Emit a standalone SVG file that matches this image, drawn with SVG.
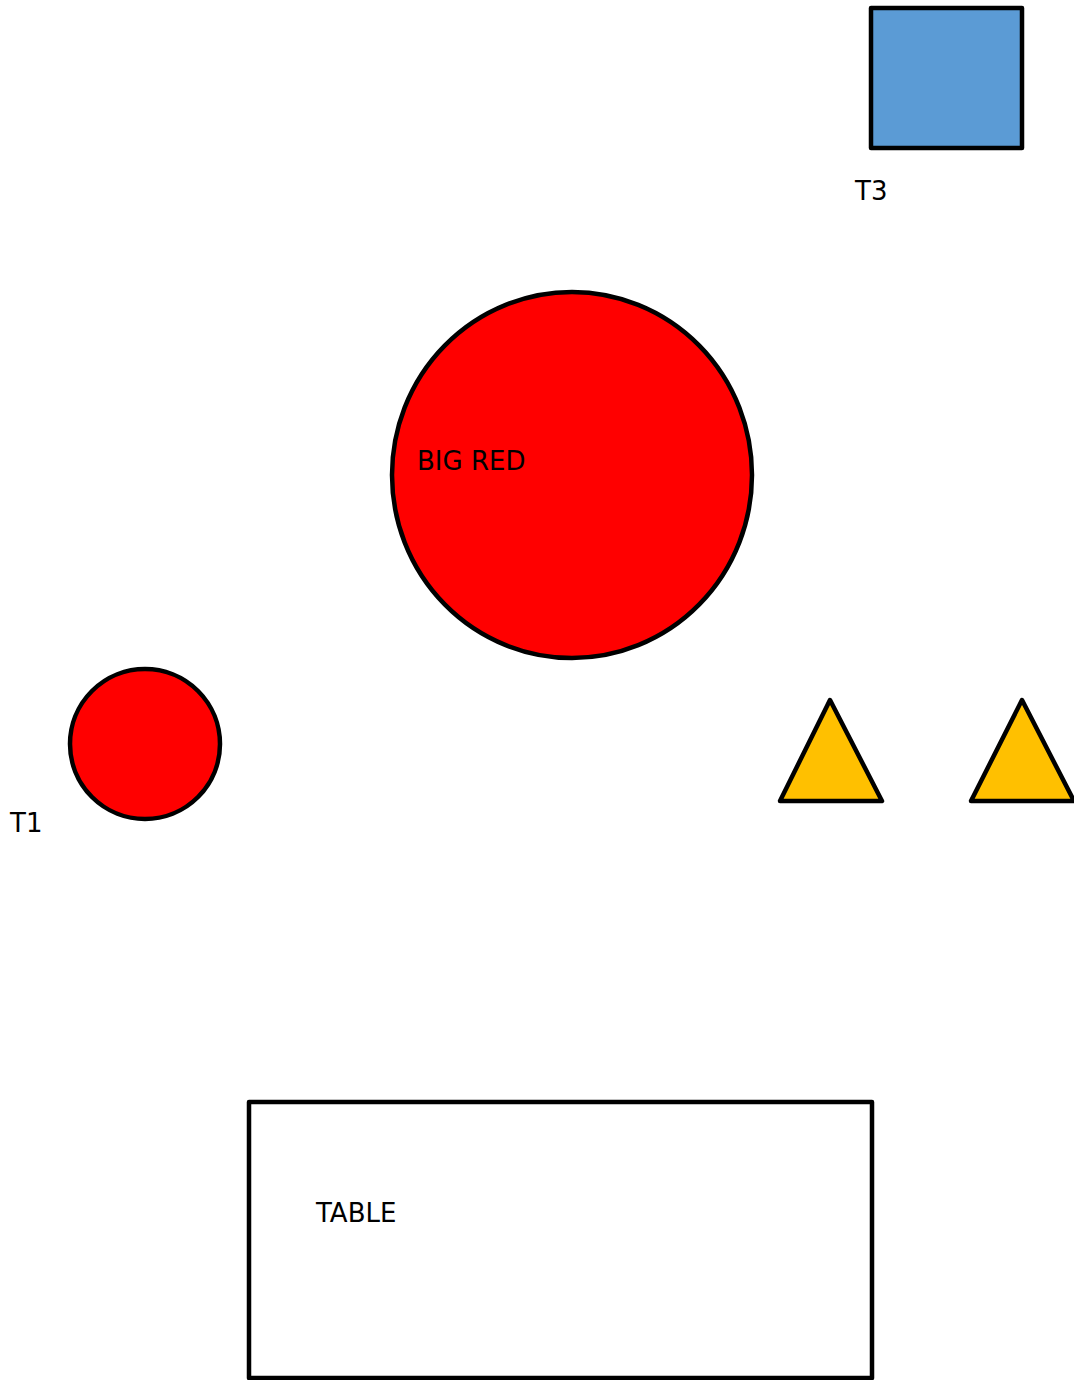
<svg xmlns="http://www.w3.org/2000/svg" width="1074" height="1380" viewBox="0 0 1074 1380">
<style>
.lbl{font-family:"DejaVu Sans",sans-serif;font-size:26px;fill:#000}
.shp{stroke:#000;stroke-width:4.5;stroke-linejoin:round}
</style>
<rect width="1074" height="1380" fill="#fff"/>
<g id="connectors"></g>
<g id="t3">
<rect class="shp" x="871" y="8" width="151" height="140" fill="#5B9BD5" stroke-width="5.5"/>
<text class="lbl" x="855" y="200">T3</text>
</g>
<g id="bigred">
<ellipse class="shp" cx="572" cy="475" rx="180" ry="183" fill="#FF0000"/>
<text class="lbl" x="417" y="470">BIG RED</text>
</g>
<g id="t1">
<circle class="shp" cx="145" cy="744" r="75" fill="#FF0000"/>
<text class="lbl" x="10" y="832">T1</text>
</g>
<g id="tri1">
<polygon class="shp" points="780,801 830,700 882,801" fill="#FFC000"/>
</g>
<g id="tri2">
<polygon class="shp" points="971,801 1022,700 1074,801" fill="#FFC000"/>
</g>
<g id="table">
<rect class="shp" x="249" y="1102" width="623" height="276" fill="#fff" stroke-width="6"/>
<text class="lbl" x="316" y="1222">TABLE</text>
</g>
</svg>
